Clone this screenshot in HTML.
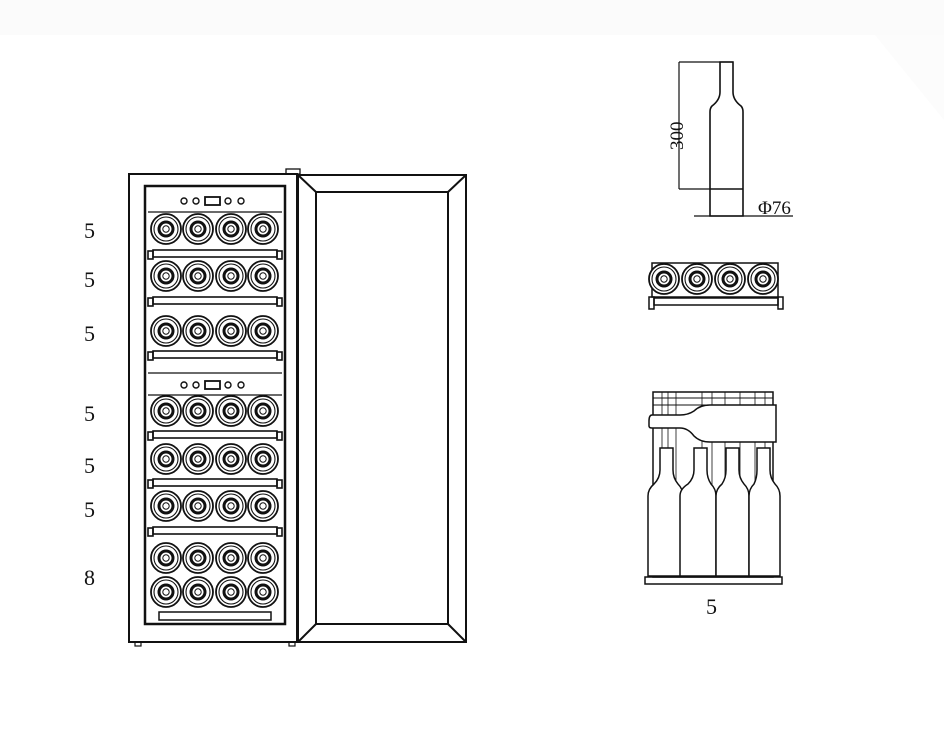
<!DOCTYPE html>
<html><head><meta charset="utf-8"><style>
html,body{margin:0;padding:0;background:#fff;width:944px;height:736px;overflow:hidden}
svg{display:block}
text{font-family:"Liberation Serif",serif;fill:#111}
</style></head><body>
<svg width="944" height="736" viewBox="0 0 944 736" xmlns="http://www.w3.org/2000/svg">
<defs>
<g id="b" fill="#fff" stroke="#111">
<circle r="15" stroke-width="1.8"/><circle r="12" stroke-width="1.1"/><circle r="7" stroke-width="3"/><circle r="3.2" stroke-width="1"/>
</g>
<g id="row">
<use href="#b" x="166"/><use href="#b" x="198"/><use href="#b" x="231"/><use href="#b" x="263"/>
</g>
<g id="rail" fill="none" stroke="#111" stroke-width="1.6">
<rect x="153" y="0" width="124" height="7"/><rect x="148" y="1" width="5" height="8"/><rect x="277" y="1" width="5" height="8"/>
</g>
<g id="panel" fill="none" stroke="#111">
<circle cx="184" cy="0" r="3" stroke-width="1.4"/><circle cx="196" cy="0" r="3" stroke-width="1.4"/>
<rect x="205" y="-4" width="15" height="8" stroke-width="1.8"/>
<circle cx="228" cy="0" r="3" stroke-width="1.4"/><circle cx="241" cy="0" r="3" stroke-width="1.4"/>
</g>
</defs>
<rect x="0" y="0" width="944" height="35" fill="#fbfbfb"/>
<polygon points="875,35 944,35 944,120" fill="#fcfcfc"/>

<!-- cabinet -->
<g fill="none" stroke="#111" stroke-width="2">
<rect x="129" y="174" width="168" height="468"/>
<rect x="145" y="186" width="140" height="438" stroke-width="2.5"/>
<rect x="286" y="169" width="14" height="5" stroke-width="1.3"/>
<rect x="135" y="642" width="6" height="4" stroke-width="1.2"/>
<rect x="289" y="642" width="6" height="4" stroke-width="1.2"/>
<line x1="148" y1="212" x2="282" y2="212" stroke-width="1.3"/>
<line x1="148" y1="395" x2="282" y2="395" stroke-width="1.3"/>
<line x1="148" y1="373" x2="282" y2="373" stroke-width="1.3"/>
<!-- door -->
<rect x="298" y="175" width="168" height="467"/>
<rect x="316" y="192" width="132" height="432"/>
<line x1="298" y1="175" x2="316" y2="192"/><line x1="466" y1="175" x2="448" y2="192"/>
<line x1="298" y1="642" x2="316" y2="624"/><line x1="466" y1="642" x2="448" y2="624"/>
</g>
<use href="#panel" y="201"/>
<use href="#panel" y="385"/>
<use href="#row" y="229"/><use href="#rail" y="250"/>
<use href="#row" y="276"/><use href="#rail" y="297"/>
<use href="#row" y="331"/><use href="#rail" y="351"/>
<use href="#row" y="411"/><use href="#rail" y="431"/>
<use href="#row" y="459"/><use href="#rail" y="479"/>
<use href="#row" y="506"/><use href="#rail" y="527"/>
<use href="#row" y="558"/>
<use href="#row" y="592"/>
<rect x="159" y="612" width="112" height="8" fill="none" stroke="#111" stroke-width="1.5"/>

<g font-size="22">
<text x="84" y="238">5</text><text x="84" y="287">5</text><text x="84" y="341">5</text>
<text x="84" y="421">5</text><text x="84" y="473">5</text><text x="84" y="517">5</text>
<text x="84" y="585">8</text>
<text x="706" y="614">5</text>
</g>

<!-- bottle dimension -->
<g fill="none" stroke="#111" stroke-width="1.6">
<path d="M720,62 V92 Q720,100 712,106 Q710,108 710,112 V216 H743 V112 Q743,108 741,106 Q733,100 733,92 V62 Z"/>
<line x1="710" y1="189" x2="743" y2="189"/>
<line x1="679" y1="62" x2="733" y2="62" stroke-width="1.2"/>
<line x1="679" y1="62" x2="679" y2="189" stroke-width="1.2"/>
<line x1="679" y1="189" x2="710" y2="189" stroke-width="1.2"/>
<line x1="694" y1="216" x2="793" y2="216" stroke-width="1.2"/>
</g>
<text transform="translate(683,150) rotate(-90)" font-size="19">300</text>
<text x="758" y="214" font-size="19">Φ76</text>

<!-- rack view -->
<rect x="652" y="263" width="126" height="34" fill="none" stroke="#111" stroke-width="1.5"/>
<use href="#b" x="664" y="279"/><use href="#b" x="697" y="279"/><use href="#b" x="730" y="279"/><use href="#b" x="763" y="279"/>
<g fill="none" stroke="#111" stroke-width="1.5">
<rect x="654" y="298" width="124" height="7"/><rect x="649" y="297" width="5" height="12"/><rect x="778" y="297" width="5" height="12"/>
</g>

<!-- side rack view -->
<g fill="none" stroke="#111" stroke-width="1.5">
<rect x="653" y="392" width="120" height="185"/>
<line x1="653" y1="398" x2="773" y2="398" stroke-width="1"/>
<line x1="653" y1="405" x2="773" y2="405" stroke-width="1"/>
<path d="M662,392 V577 M668,392 V577 M676,392 V577 M702,392 V577 M712,392 V577 M725,392 V577 M740,392 V577 M755,392 V577 M765,392 V577" stroke-width="0.8"/>
<g fill="#fff">
<path d="M648,576 V496 Q648,489 654,484 Q660,478 660,470 V448 H673 V470 Q673,478 678,484 Q683,489 683,496 V576 Z"/>
<path d="M680,576 V496 Q680,489 688,484 Q694,478 694,470 V448 H707 V470 Q707,478 711,484 Q716,489 716,496 V576 Z"/>
<path d="M716,576 V496 Q716,489 722,484 Q726,478 726,470 V448 H739 V470 Q739,478 744,484 Q749,489 749,496 V576 Z"/>
<path d="M749,576 V496 Q749,489 754,484 Q757,478 757,470 V448 H770 V470 Q770,478 775,484 Q780,489 780,496 V576 Z"/>
<path d="M652,415 Q649,415 649,421 V426 Q649,428 652,428 H680 Q688,428 694,436 Q700,442 710,442 H776 V405 H710 Q700,405 694,411 Q688,415 680,415 Z"/>
</g>
<rect x="645" y="577" width="137" height="7"/>
</g>
</svg>
</body></html>
